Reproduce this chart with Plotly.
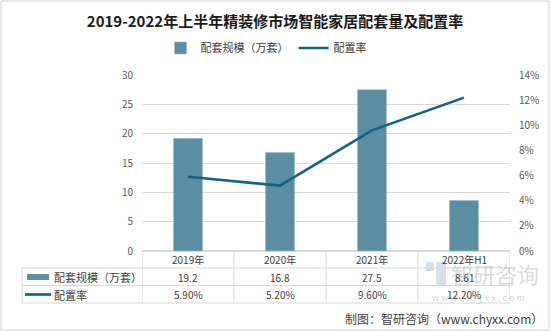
import plotly.graph_objects as go

categories = ["2019年", "2020年", "2021年", "2022年H1"]
scale_values = [19.2, 16.8, 27.5, 8.61]          # 配套规模（万套）
rate_values = [0.059, 0.052, 0.096, 0.122]       # 配置率
scale_labels = ["19.2", "16.8", "27.5", "8.61"]
rate_labels = ["5.90%", "5.20%", "9.60%", "12.20%"]
series_names = ["配套规模（万套）", "配置率"]

W, H = 550, 331
L, R, T, B = 142, 40, 75, 80
PW, PH = W - L - R, H - T - B

def px(x):  # pixel x -> paper
    return (x - L) / PW

def py(y):  # pixel y -> paper
    return (H - B - y) / PH

BAR = "#5b8ea3"
LINE = "#136185"
FONT = "Noto Sans CJK SC"
GRID = "#d9d9d9"
TXT = "#595959"

fig = go.Figure()
fig.add_trace(go.Bar(x=categories, y=scale_values, name=series_names[0],
                     marker=dict(color=BAR, line=dict(color="#9fc0cf", width=0.6)),
                     width=0.315))
fig.add_trace(go.Scatter(x=categories, y=rate_values, name=series_names[1], yaxis="y2",
                         mode="lines", line=dict(color=LINE, width=2.6)))

shapes = []
ann = []
# watermark (drawn first, faint)
shapes.append(dict(type="rect", xref="paper", yref="paper", x0=px(426), x1=px(434),
                   y0=py(271), y1=py(262), fillcolor="#9db4cc", opacity=0.4, line=dict(width=0),
                   layer="below"))
shapes.append(dict(type="rect", xref="paper", yref="paper", x0=px(436), x1=px(446),
                   y0=py(285), y1=py(262), fillcolor="#9db4cc", opacity=0.4, line=dict(width=0),
                   layer="below"))
ann.append(dict(x=px(449), y=py(273), xref="paper", yref="paper", text="智研咨询", showarrow=False,
                xanchor="left", yanchor="middle",
                font=dict(size=22, color="rgba(160,160,160,0.4)", family=FONT)))
ann.append(dict(x=px(478), y=py(297), xref="paper", yref="paper", text="w w w . c h y x x . c o m",
                showarrow=False, xanchor="center", yanchor="middle",
                font=dict(size=9, color="rgba(160,160,160,0.45)", family=FONT)))

# table lines
line_style = dict(color=GRID, width=1)
for yy in [268, 285.5, 303]:
    shapes.append(dict(type="line", xref="paper", yref="paper", x0=px(22), x1=1,
                       y0=py(yy), y1=py(yy), line=line_style))
for i in range(len(categories) + 1):
    shapes.append(dict(type="line", xref="x", yref="paper", x0=i - 0.5, x1=i - 0.5,
                       y0=py(251), y1=py(303), line=line_style))
shapes.append(dict(type="line", xref="paper", yref="paper", x0=px(22), x1=px(22),
                   y0=py(268), y1=py(303), line=line_style))
# table legend keys
shapes.append(dict(type="rect", xref="paper", yref="paper", x0=px(27), x1=px(49),
                   y0=py(280), y1=py(274), fillcolor=BAR, line=dict(width=0)))
shapes.append(dict(type="line", xref="paper", yref="paper", x0=px(25), x1=px(51),
                   y0=py(294.5), y1=py(294.5), line=dict(color=LINE, width=2.6)))
ann.append(dict(x=px(52), y=py(277), xref="paper", yref="paper", text=series_names[0],
                showarrow=False, xanchor="left", yanchor="middle",
                font=dict(size=11, color="#404040", family=FONT)))
ann.append(dict(x=px(52), y=py(294.5), xref="paper", yref="paper", text=series_names[1],
                showarrow=False, xanchor="left", yanchor="middle",
                font=dict(size=11, color="#404040", family=FONT)))
for i, c in enumerate(categories):
    ann.append(dict(x=c, y=py(259.5), xref="x", yref="paper", text=c, showarrow=False,
                    yanchor="middle", font=dict(size=10, color="#404040", family=FONT)))
    ann.append(dict(x=c, y=py(277), xref="x", yref="paper", text=scale_labels[i], showarrow=False,
                    yanchor="middle", font=dict(size=10, color="#404040", family=FONT)))
    ann.append(dict(x=c, y=py(294.5), xref="x", yref="paper", text=rate_labels[i], showarrow=False,
                    yanchor="middle", font=dict(size=10, color="#404040", family=FONT)))

# footer
ann.append(dict(x=px(545), y=py(318), xref="paper", yref="paper", text="制图：智研咨询（www.chyxx.com）",
                showarrow=False, xanchor="right", yanchor="middle",
                font=dict(size=12, color="#404040", family=FONT)))
# frame
shapes.append(dict(type="rect", xref="paper", yref="paper", x0=px(1), x1=px(549),
                   y0=py(330), y1=py(1), line=dict(color="#d0d0d0", width=1)))

fig.update_layout(
    width=W, height=H,
    margin=dict(l=L, r=R, t=T, b=B),
    paper_bgcolor="white", plot_bgcolor="white",
    font=dict(family=FONT, color=TXT),
    title=dict(text="<b>2019-2022年上半年精装修市场智能家居配套量及配置率</b>",
               x=0.5, xref="container", y=1 - 22 / H, yref="container",
               xanchor="center", yanchor="middle",
               font=dict(size=15, color="#1a1a1a", family=FONT)),
    showlegend=True,
    legend=dict(orientation="h", x=px(266), xanchor="center", y=py(48), yanchor="middle",
                font=dict(size=11, color="#404040", family=FONT), itemwidth=30,
                tracegroupgap=0, bgcolor="rgba(0,0,0,0)"),
    xaxis=dict(range=[-0.5, 3.5], showticklabels=False, showgrid=False,
               showline=False, zeroline=False, ticks=""),
    yaxis=dict(range=[0, 30], dtick=5, showgrid=True, gridcolor=GRID, gridwidth=1,
               zeroline=True, zerolinecolor=GRID, showline=False, ticks="",
               tickfont=dict(size=10, color=TXT), ticklabelstandoff=8),
    yaxis2=dict(range=[0, 0.14], dtick=0.02, tickformat=".0%", overlaying="y", side="right",
                showgrid=False, zeroline=False, showline=False, ticks="",
                tickfont=dict(size=10, color=TXT), ticklabelstandoff=8),
    shapes=shapes, annotations=ann,
)

fig.write_html("out.html")
